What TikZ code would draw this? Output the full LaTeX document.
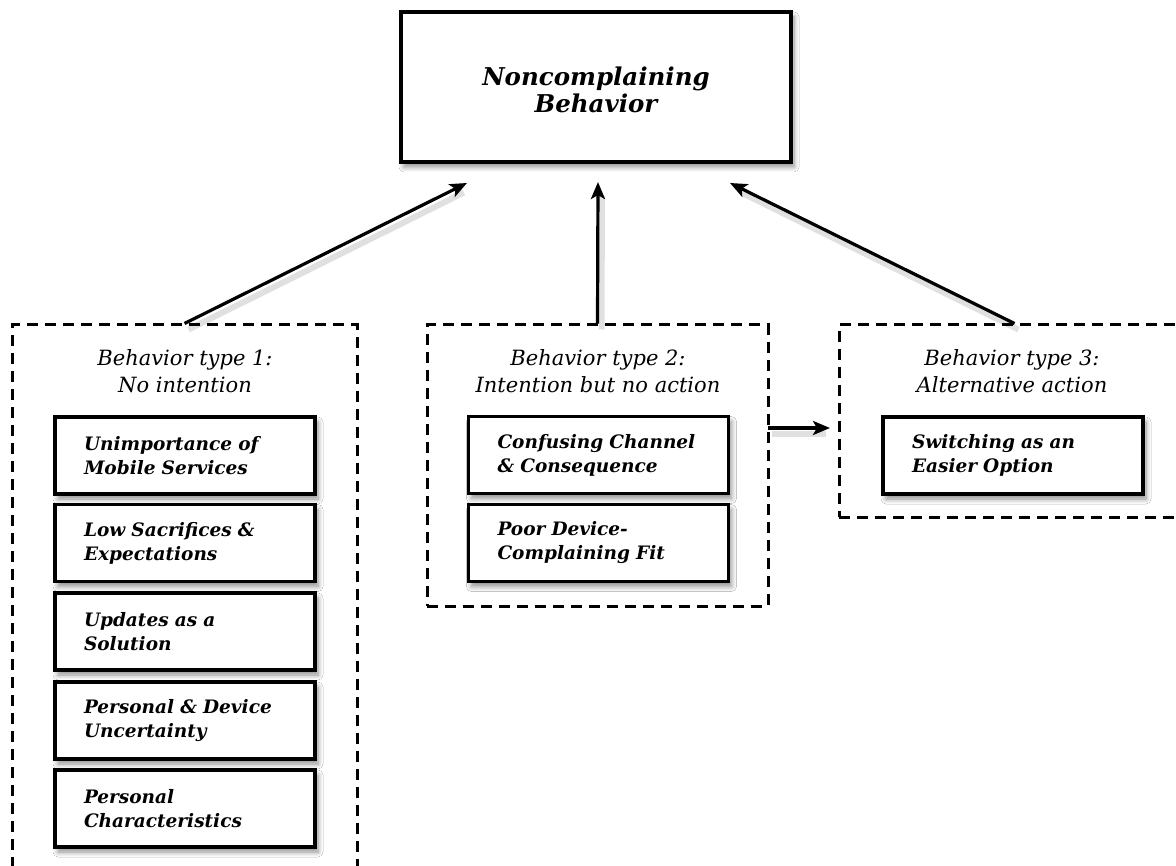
\documentclass[tikz,border=0pt]{standalone}
\usepackage{fontspec}
\setmainfont{DejaVu Serif}
\usetikzlibrary{arrows.meta,shadows.blur,calc}
\tikzset{
  x=1pt,y=1pt,
  sbox/.style={draw=black,line width=3.8pt,fill=white,
    blur shadow={shadow xshift=3pt,shadow yshift=-5pt,shadow blur steps=8,shadow opacity=45,shadow blur radius=5pt}},
  topbox/.style={sbox,minimum width=390pt,minimum height=150pt,align=center,
    font=\fontsize{24.5}{28}\selectfont\bfseries\itshape},
  inbox/.style={sbox,minimum width=260pt,minimum height=77pt,text width=202pt,align=left,inner xsep=0pt,
    font=\fontsize{18.5}{24}\selectfont\bfseries\itshape},
  group/.style={draw=black,line width=3pt,dash pattern=on 11pt off 7pt,inner sep=0pt},
  gtitle/.style={align=center,font=\fontsize{21}{27}\selectfont\itshape},
  arr/.style={line width=3.2pt,-{Stealth[length=17pt,width=14pt,inset=4pt]}},
  ashadow/.style={line width=6pt,draw=black,opacity=0.12,shorten >=8pt}
}
\begin{document}
\begin{tikzpicture}
\useasboundingbox (0,0) rectangle (1176,-866);
\clip (0,0) rectangle (1176,-866);
\fill[white] (0,0) rectangle (1176,-866);

\node[topbox] (top) at (596,-87) {\raisebox{-6pt}[\height][\depth]{\begin{tabular}{@{}c@{}}Noncomplaining\\[-1pt]Behavior\end{tabular}}};

\node[group,minimum width=345pt,minimum height=560pt] (g1) at (184.5,-605) {};
\node[group,minimum width=341pt,minimum height=281pt] (g2) at (597.5,-465.5) {};
\node[group,minimum width=351pt,minimum height=192pt] (g3) at (1014.5,-421) {};

\node[gtitle] (t1) at (185,-371) {Behavior type 1:\\No intention};
\node[gtitle] (t2) at (598,-371) {Behavior type 2:\\Intention but no action};
\node[gtitle] (t3) at (1012,-371) {Behavior type 3:\\Alternative action};

\node[inbox] (a1) at (185,-455.5) {Unimportance of\\Mobile Services};
\node[inbox] (a2) at (185,-543) {Low Sacrifices \&\\Expectations};
\node[inbox] (a3) at (185,-631.5) {Updates as a\\Solution};
\node[inbox] (a4) at (185,-720.5) {Personal \& Device\\Uncertainty};
\node[inbox] (a5) at (185,-808.5) {Personal\\Characteristics};

\node[inbox] (b1) at (598.5,-455) {Confusing Channel\\\& Consequence};
\node[inbox] (b2) at (598.5,-543) {Poor Device-\\Complaining Fit};

\node[inbox] (c1) at (1013,-455.5) {Switching as an\\Easier Option};

\coordinate (e1) at (467,-183);
\coordinate (e2) at (598,-182);
\coordinate (e3) at (730,-183);
\coordinate (hs) at (768,-428);
\coordinate (he) at (830,-428);

\draw[ashadow] ($(g1.north)+(4,-6)$) -- ($(e1)+(4,-6)$);
\draw[ashadow] ($(g2.north)+(4,-6)$) -- ($(e2)+(4,-6)$);
\draw[ashadow] ($(g3.north)+(4,-6)$) -- ($(e3)+(4,-6)$);
\draw[ashadow] ($(hs)+(4,-6)$) -- ($(he)+(4,-6)$);

\draw[arr] (g1.north) -- (e1);
\draw[arr] (g2.north) -- (e2);
\draw[arr] (g3.north) -- (e3);
\draw[arr] (hs) -- (he);
\end{tikzpicture}
\end{document}
